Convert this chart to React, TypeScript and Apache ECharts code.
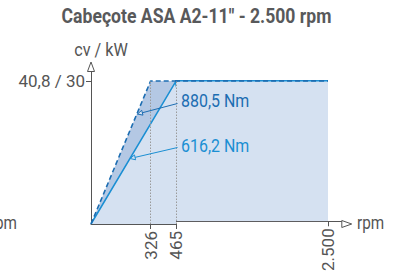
import { useEffect, useRef } from "react";
import * as echarts from "echarts";

// ---- data ----
const chartTitle = 'Cabeçote ASA A2-11" - 2.500 rpm';
const yAxisName = "cv / kW";
const xAxisName = "rpm";
const powerCV = "40,8";
const powerKW = 30;
const rpmKnees = [326, 465];
const rpmMax = [2500];
const dashedCurve = [
  [0, 0],
  [326, 30],
  [2500, 30],
];
const solidCurve = [
  [0, 0],
  [465, 30],
  [2500, 30],
];
const torqueLabels = ["880,5 Nm", "616,2 Nm"];

const FONT = "Roboto, 'Noto Sans', sans-serif";
const AXIS = "#555";
const DARK_BLUE = "#1c6db2";
const LIGHT_BLUE = "#1b8fd3";
const FILL_LIGHT = "#d5e1f1";
const FILL_DARK = "#b4c8e4";

const fmt = (v: number) => String(v).replace(/\B(?=(\d{3})+(?!\d))/g, ".");

function arrowHead(tip: number[], from: number[], len = 5, half = 2.5) {
  const dx = tip[0] - from[0];
  const dy = tip[1] - from[1];
  const l = Math.hypot(dx, dy);
  const ux = dx / l;
  const uy = dy / l;
  const bx = tip[0] - ux * len;
  const by = tip[1] - uy * len;
  return [
    [tip[0], tip[1]],
    [bx - uy * half, by + ux * half],
    [bx + uy * half, by - ux * half],
  ];
}

function txt(text: string, x: number, y: number, size: number, fill: string, align: string, scaleX: number, weight = "normal") {
  return {
    type: "text",
    x,
    y,
    scaleX,
    z: 10,
    style: {
      text,
      fill,
      font: `${weight} ${size}px ${FONT}`,
      textAlign: align,
      textVerticalAlign: "middle",
    },
  };
}

function buildOption() {
  const grids = [
    { left: 91, width: 85, top: 71.5, bottom: 50 },
    { left: 176, width: 165.8, top: 71.5, bottom: 50 },
  ];
  const xRanges = [
    [0, 465, rpmKnees],
    [465, 2685, rpmMax],
  ] as const;
  const xAxis = xRanges.map(([min, max, ticks], i) => ({
    gridIndex: i,
    type: "value",
    min,
    max,
    splitLine: { show: false },
    splitArea: { show: false },
    minorSplitLine: { show: false },
    axisLine: { show: true, onZero: false, lineStyle: { color: AXIS, width: 1 } },
    axisTick: { show: true, customValues: ticks, length: 5, lineStyle: { color: AXIS } },
    axisLabel: {
      show: true,
      customValues: ticks,
      rotate: 90,
      margin: 7,
      formatter: (v: number) => fmt(v),
      color: AXIS,
      fontSize: 17,
      fontFamily: FONT,
    },
  }));
  const yAxis = [0, 1].map((i) => ({
    gridIndex: i,
    type: "value",
    min: 0,
    max: 32,
    show: i === 0,
    splitLine: { show: false },
    axisLine: { show: true, onZero: false, lineStyle: { color: AXIS, width: 1 } },
    axisTick: { show: true, customValues: [powerKW], length: 5, lineStyle: { color: AXIS } },
    axisLabel: {
      show: true,
      customValues: [powerKW],
      margin: 6,
      formatter: () => `${powerCV} / ${powerKW}`,
      color: AXIS,
      fontSize: 17,
      fontFamily: FONT,
    },
  }));

  const hiddenLine = { width: 0, opacity: 0, color: "transparent" };
  const series: any[] = [];
  [0, 1].forEach((g) => {
    if (g === 0) {
      series.push({
        type: "line",
        xAxisIndex: g,
        yAxisIndex: g,
        data: dashedCurve,
        showSymbol: false,
        lineStyle: hiddenLine,
        areaStyle: { color: FILL_DARK, opacity: 1 },
        z: 1,
        silent: true,
      });
    }
    series.push({
      type: "line",
      xAxisIndex: g,
      yAxisIndex: g,
      data: solidCurve,
      showSymbol: false,
      lineStyle: hiddenLine,
      areaStyle: { color: FILL_LIGHT, opacity: 1 },
      z: 2,
      silent: true,
      markLine:
        g === 0
          ? {
              silent: true,
              symbol: "none",
              label: { show: false },
              lineStyle: { type: [1.5, 1.5], color: "#9a9a9a", width: 1 },
              data: rpmKnees.map((r) => [{ coord: [r, 0] }, { coord: [r, powerKW] }]),
            }
          : undefined,
    });
    series.push({
      type: "line",
      xAxisIndex: g,
      yAxisIndex: g,
      data: solidCurve,
      showSymbol: false,
      lineStyle: { width: 1.5, color: LIGHT_BLUE },
      z: 3,
      silent: true,
    });
    series.push({
      type: "line",
      xAxisIndex: g,
      yAxisIndex: g,
      data: dashedCurve,
      showSymbol: false,
      lineStyle: { width: 1.6, color: DARK_BLUE, type: [5, 3] },
      z: 4,
      silent: true,
    });
  });

  const leaders = [
    { from: [177.5, 103.5], tip: [137.5, 114], color: DARK_BLUE },
    { from: [177.5, 147.5], tip: [130.2, 158.5], color: LIGHT_BLUE },
  ];

  const graphic: any[] = [
    txt(chartTitle, 196.5, 17, 20, "#58595b", "center", 0.88, "bold"),
    {
      type: "polygon",
      shape: { points: [[87.5, 71.5], [94.5, 71.5], [91, 62]] },
      style: { fill: "#fff", stroke: AXIS, lineWidth: 1 },
      z: 10,
    },
    {
      type: "polygon",
      shape: { points: [[341.8, 220.5], [341.8, 227.5], [351.7, 224]] },
      style: { fill: "#fff", stroke: AXIS, lineWidth: 1 },
      z: 10,
    },
    txt(yAxisName, 101, 50, 18, AXIS, "center", 0.9),
    txt(xAxisName, 357, 223, 18, AXIS, "left", 0.85),
    txt(xAxisName, 17, 223, 18, AXIS, "right", 0.85),
  ];
  torqueLabels.forEach((t, i) => {
    const L = leaders[i];
    graphic.push(txt(t, 181, i === 0 ? 100.5 : 146, 19, L.color, "left", 0.84));
    graphic.push({
      type: "line",
      shape: { x1: L.from[0], y1: L.from[1], x2: L.tip[0], y2: L.tip[1] },
      style: { stroke: L.color, lineWidth: 1 },
      z: 10,
    });
    graphic.push({
      type: "polygon",
      shape: { points: arrowHead(L.tip, L.from) },
      style: { fill: FILL_LIGHT, stroke: L.color, lineWidth: 1 },
      z: 10,
    });
  });

  return {
    animation: false,
    backgroundColor: "#fff",
    grid: grids,
    xAxis,
    yAxis,
    series,
    graphic,
  };
}

export default function App() {
  const ref = useRef<HTMLDivElement>(null);
  useEffect(() => {
    if (!ref.current) return;
    const chart = echarts.init(ref.current, undefined, { renderer: "svg" });
    chart.setOption(buildOption() as any);
    return () => chart.dispose();
  }, []);
  return (
    <div
      ref={ref}
      style={{ position: "fixed", left: 0, top: 0, width: 396, height: 274 }}
    />
  );
}
